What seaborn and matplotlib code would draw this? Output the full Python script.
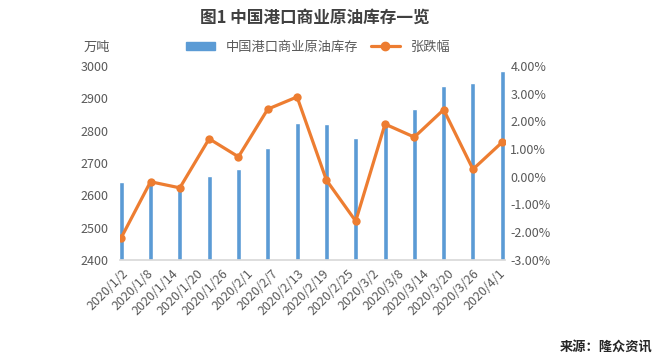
import numpy as np
import pandas as pd
import matplotlib
matplotlib.use('Agg')
import matplotlib.pyplot as plt
import seaborn as sns
from matplotlib.lines import Line2D
from matplotlib.patches import Patch
from matplotlib.ticker import FuncFormatter

# weekly data
dates = ['2020-01-02', '2020-01-09', '2020-01-16', '2020-01-23', '2020-01-30',
         '2020-02-06', '2020-02-13', '2020-02-20', '2020-02-27', '2020-03-05',
         '2020-03-12', '2020-03-19', '2020-03-26', '2020-04-02']
stock = [2640, 2635, 2625, 2661, 2680, 2745, 2824, 2821, 2776, 2829,
         2868, 2938, 2946, 2983]
change = [-2.20, -0.18, -0.40, 1.37, 0.72, 2.44, 2.88, -0.12, -1.60, 1.90,
          1.43, 2.42, 0.27, 1.25]

# date axis ticks (every 6 days)
tick_dates = ['2020-01-02', '2020-01-08', '2020-01-14', '2020-01-20', '2020-01-26',
              '2020-02-01', '2020-02-07', '2020-02-13', '2020-02-19', '2020-02-25',
              '2020-03-02', '2020-03-08', '2020-03-14', '2020-03-20', '2020-03-26',
              '2020-04-01']
tick_labels = ['2020/1/2', '2020/1/8', '2020/1/14', '2020/1/20', '2020/1/26',
               '2020/2/1', '2020/2/7', '2020/2/13', '2020/2/19', '2020/2/25',
               '2020/3/2', '2020/3/8', '2020/3/14', '2020/3/20', '2020/3/26',
               '2020/4/1']

BAR_NAME = '中国港口商业原油库存'
LINE_NAME = '张跌幅'
BLUE = '#5B9BD5'
ORANGE = '#ED7D31'
GRAY = '#595959'

sns.set_theme(style='white')
plt.rcParams['font.family'] = ['Noto Sans CJK SC', 'DejaVu Sans']
plt.rcParams['axes.unicode_minus'] = False

start = pd.Timestamp(dates[0])
df = pd.DataFrame({
    'day': [(pd.Timestamp(d) - start).days for d in dates],
    'stock': stock,
    'change': change,
})
tick_pos = [(pd.Timestamp(d) - start).days for d in tick_dates]

fig = plt.figure(figsize=(6.59, 3.62), dpi=100)
ax = fig.add_axes([0.182, 0.282, 0.584, 0.536])

sns.barplot(data=df, x='day', y='stock', native_scale=True, width=0.17,
            color=BLUE, saturation=1, ax=ax)
ax.set_ylim(2400, 3000)
ax.set_yticks(np.arange(2400, 3001, 100))
ax.set_xticks(tick_pos)
ax.set_xticklabels(tick_labels, rotation=45, ha='right', rotation_mode='anchor',
                   fontsize=9, color=GRAY)
ax.tick_params(axis='x', length=3, color='#D9D9D9', pad=2)
ax.tick_params(axis='y', length=0, labelsize=9, labelcolor=GRAY, pad=8)
ax.set_xlabel('')
ax.set_ylabel('')
for s in ['top', 'left', 'right']:
    ax.spines[s].set_visible(False)
ax.spines['bottom'].set_color('#D9D9D9')

ax2 = ax.twinx()
sns.lineplot(data=df, x='day', y='change', color=ORANGE, linewidth=2.3,
             marker='o', markersize=6, markeredgewidth=0, ax=ax2)
ax2.set_ylim(-3, 4)
ax2.set_yticks(np.arange(-3, 4.01, 1))
ax2.yaxis.set_major_formatter(FuncFormatter(lambda v, p: f'{v:.2f}%'))
ax2.tick_params(axis='y', length=0, labelsize=9, labelcolor=GRAY, pad=4)
ax2.set_ylabel('')
for s in ['top', 'left', 'right', 'bottom']:
    ax2.spines[s].set_visible(False)
ax.set_xlim(-0.3, 91.6)

fig.text(315 / 659, 1 - 18 / 362, '图1 中国港口商业原油库存一览', ha='center', va='center',
         fontsize=12, fontweight='bold', color='#404040')
fig.text(97 / 659, 1 - 47 / 362, '万吨', ha='center', va='center', fontsize=9.5, color=GRAY)
fig.text(606 / 659, 1 - 347 / 362, '来源：隆众资讯', ha='center', va='center',
         fontsize=9.5, fontweight='bold', color='#262626')

handles = [Patch(color=BLUE, label=BAR_NAME),
           Line2D([0], [0], color=ORANGE, lw=2.3, marker='o', markersize=6, label=LINE_NAME)]
fig.legend(handles=handles, loc='center', bbox_to_anchor=(318 / 659, 1 - 47 / 362),
           ncol=2, frameon=False, fontsize=9.5, handlelength=2.2, handleheight=0.5,
           columnspacing=1.0, labelcolor=GRAY)

fig.savefig('out.png', dpi=100)
